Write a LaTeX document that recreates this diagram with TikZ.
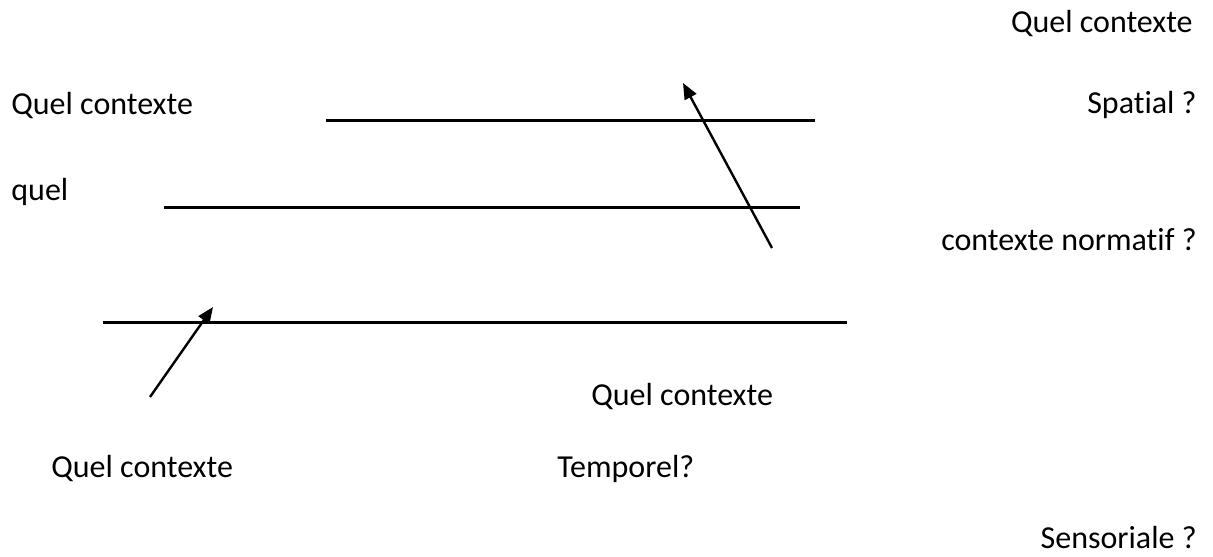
\documentclass[tikz,border=0pt]{standalone}
\usepackage{fontspec}
\setmainfont[Ligatures=NoCommon]{Carlito}
\usetikzlibrary{arrows.meta}
\begin{document}
\begin{tikzpicture}
[
	x=0.5pt, y=-0.5pt,
	lbl/.style={inner sep=0pt,font=\fontsize{16}{19}\selectfont},
	leftlbl/.style={lbl,anchor=base west},
	rightlbl/.style={lbl,anchor=base east},
	blank/.style={line width=1.5pt},
	pointer/.style={line width=1.2pt,-{Triangle[length=8pt,width=6.5pt]}}
]
	\useasboundingbox (0,0) rectangle (1213,556);

	% questions on the right
	\node[rightlbl] at (1193,33) (qtop) {Quel contexte};
	\node[rightlbl] at (1197,113) (spatial) {Spatial ?};
	\node[rightlbl] at (1197,250) (normatif) {contexte normatif ?};
	\node[rightlbl] at (1197,548) (sensoriale) {Sensoriale ?};

	% questions on the left
	\node[leftlbl] at (11,114) (qleft) {Quel contexte};
	\node[leftlbl] at (11,200) (quel) {quel};
	\node[leftlbl] at (591,405) (qmid) {Quel contexte};
	\node[leftlbl] at (51,477) (qbottom) {Quel contexte};
	\node[leftlbl] at (557,477) (temporel) {Temporel?};

	% blanks
	\coordinate (b1s) at (326,120);
	\coordinate (b1e) at (815,120);
	\coordinate (b2s) at (164,207);
	\coordinate (b2e) at (800,207);
	\coordinate (b3s) at (103,322);
	\coordinate (b3e) at (847,322);
	\draw[blank] (b1s) -- (b1e);
	\draw[blank] (b2s) -- (b2e);
	\draw[blank] (b3s) -- (b3e);

	% arrows
	\coordinate (a1s) at (772,248);
	\coordinate (a1e) at (683,83);
	\coordinate (a2s) at (150,397);
	\coordinate (a2e) at (213,307);
	\draw[pointer] (a1s) -- (a1e);
	\draw[pointer] (a2s) -- (a2e);

\end{tikzpicture}
\end{document}
